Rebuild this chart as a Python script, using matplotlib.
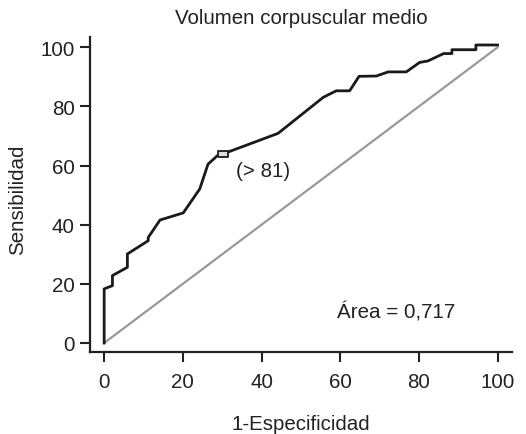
import numpy as np
import matplotlib.pyplot as plt

plt.rcParams['font.family'] = ['Liberation Sans', 'DejaVu Sans']

# ROC curve (1-especificidad, sensibilidad)
fpr = [0, 0, 2.1, 2.1, 5.9, 5.9, 11.2, 11.2, 14.2, 20.1, 24.3, 26.4, 29.0, 30.3,
       44.2, 55.7, 59.0, 62.4, 64.8, 69.2, 72.2, 76.8, 80.2, 82.3, 86.3, 88.4,
       88.4, 94.5, 94.5, 100]
tpr = [0, 18.3, 19.4, 22.8, 25.6, 30.1, 34.6, 35.7, 41.6, 44.0, 52.1, 60.5, 63.6, 64.0,
       70.9, 83.1, 85.3, 85.3, 90.2, 90.3, 91.7, 91.7, 94.9, 95.4, 97.9, 97.9,
       99.2, 99.2, 100.8, 100.8]
diag = [0, 100]
cut_x, cut_y = 30.3, 64.0
cut_label = "(> 81)"
area_label = "Área = 0,717"
ticks = [0, 20, 40, 60, 80, 100]

fs = 14.8
fig = plt.figure(figsize=(5.26, 4.35), dpi=100)
ax = fig.add_axes([90 / 526, (435 - 353.3) / 435, (511.7 - 90) / 526, (353.3 - 38.3) / 435])

ax.plot(diag, diag, color="#999999", lw=1.6, zorder=2)
ax.plot(fpr, tpr, color="#1a1a1a", lw=2.0, zorder=3)
box = [(-1, -0.5), (1, -0.5), (1, 0.5), (-1, 0.5), (-1, -0.5)]
ax.plot([cut_x], [cut_y], marker=box, ms=7.5, mfc="#dddddd", mec="#1a1a1a",
        mew=1.3, ls="none", zorder=4)

ax.text(33.5, 58.2, cut_label, fontsize=fs, color="#222222", va="center")
ax.text(59.2, 10.5, area_label, fontsize=fs, color="#222222", va="center")

ax.set_xlim(-3.6, 103.6)
ax.set_ylim(-3.15, 103.4)
ax.set_xticks(ticks)
ax.set_yticks(ticks)
ax.tick_params(direction="out", length=7, width=1.5, labelsize=fs,
               colors="#222222")
ax.tick_params(axis="x", pad=7)
ax.tick_params(axis="y", pad=4)
for s in ["top", "right"]:
    ax.spines[s].set_visible(False)
for s in ["left", "bottom"]:
    ax.spines[s].set_linewidth(1.6)
    ax.spines[s].set_color("#222222")

fig.text(301 / 526, 1 - 18 / 435, "Volumen corpuscular medio", ha="center",
         va="center", fontsize=fs, color="#222222")
fig.text(301 / 526, 1 - 425 / 435, "1-Especificidad", ha="center", va="center",
         fontsize=fs, color="#222222")
fig.text(18 / 526, 1 - 200 / 435, "Sensibilidad", ha="center", va="center",
         rotation=90, fontsize=fs, color="#222222")

fig.savefig("out.png", dpi=100)
